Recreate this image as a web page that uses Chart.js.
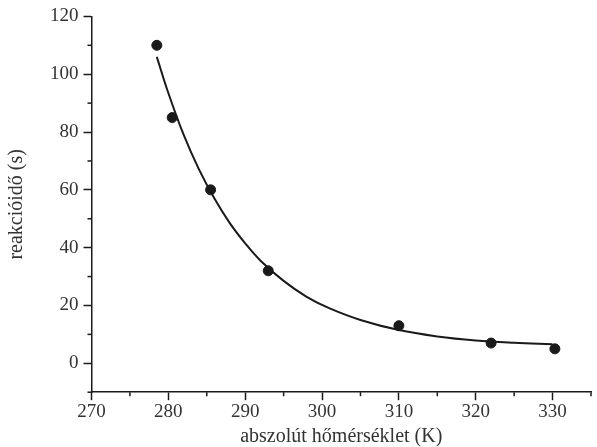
<!DOCTYPE html>
<html>
<head>
<meta charset="utf-8">
<script src="https://cdn.jsdelivr.net/npm/chart.js@4"></script>
<style>
  html, body { margin: 0; padding: 0; background: #fff; }
  #wrap { width: 597px; height: 447px; }
</style>
</head>
<body>
<div id="wrap"><canvas id="chartCanvas" width="597" height="447"></canvas></div>
<script>
// measured points
const tempK = [278.5, 280.5, 285.5, 293, 310, 322, 330.3];
const reactionTime = [110, 85, 60, 32, 13, 7, 5];

// fitted curve
const curveX = [278.5, 280, 282, 284, 286, 288, 290, 292, 295, 298, 301, 305, 310, 315, 320, 325, 330];
const curveY = [106, 93.5, 79, 67, 57, 48.5, 41.5, 35.5, 28.5, 23, 19, 15, 11.5, 9.3, 7.9, 7.1, 6.6];

const xTitle = 'abszolút hőmérséklet (K)';
const yTitle = 'reakcióidő (s)';

const ink = '#1a1a1a';
const font = 'Liberation Serif';

// short minor ticks drawn through the scales
const minorTicks = {
    id: 'minorTicks',
    afterDraw(chart) {
        const ctx = chart.ctx;
        const xs = chart.scales.x, ys = chart.scales.y;
        ctx.save();
        ctx.strokeStyle = ink;
        ctx.lineWidth = 1.5;
        xs.ticks.forEach(t => {
            if (t.value % 10 !== 0) {
                const px = xs.getPixelForValue(t.value);
                ctx.beginPath();
                ctx.moveTo(px, xs.top);
                ctx.lineTo(px, xs.top + 4);
                ctx.stroke();
            }
        });
        ys.ticks.forEach(t => {
            if (t.value % 20 !== 0) {
                const py = ys.getPixelForValue(t.value);
                ctx.beginPath();
                ctx.moveTo(ys.right, py);
                ctx.lineTo(ys.right - 4, py);
                ctx.stroke();
            }
        });
        ctx.restore();
    }
};

const ctx = document.getElementById('chartCanvas').getContext('2d');
new Chart(ctx, {
    type: 'scatter',
    data: {
        datasets: [
            {
                label: 'görbe',
                data: curveX.map((x, i) => ({ x: x, y: curveY[i] })),
                showLine: true,
                borderColor: ink,
                borderWidth: 2,
                pointRadius: 0,
                tension: 0.4,
                fill: false,
            },
            {
                label: 'mérés',
                data: tempK.map((x, i) => ({ x: x, y: reactionTime[i] })),
                backgroundColor: ink,
                borderColor: ink,
                pointRadius: 5,
                pointHoverRadius: 5,
            },
        ],
    },
    plugins: [minorTicks],
    options: {
        responsive: false,
        animation: false,
        layout: { padding: { top: 10, right: 2, left: 5, bottom: 0 } },
        plugins: {
            legend: { display: false },
            tooltip: { enabled: false },
        },
        scales: {
            x: {
                type: 'linear',
                min: 270,
                max: 335,
                border: { display: true, color: ink, width: 1.5 },
                grid: {
                    drawOnChartArea: false,
                    drawTicks: true,
                    tickLength: 8,
                    tickWidth: 1.5,
                    tickColor: c => (c.tick && c.tick.value % 10 === 0) ? ink : 'rgba(0,0,0,0)',
                },
                ticks: {
                    stepSize: 5,
                    autoSkip: false,
                    maxRotation: 0,
                    padding: 0,
                    color: '#333',
                    font: { family: font, size: 19 },
                    callback: v => (v % 10 === 0 ? v : ''),
                },
                title: {
                    display: true,
                    text: xTitle,
                    color: '#333',
                    font: { family: font, size: 20, lineHeight: 1 },
                    padding: { top: 4, bottom: 0 },
                },
            },
            y: {
                type: 'linear',
                min: -10,
                max: 120,
                border: { display: true, color: ink, width: 1.5 },
                grid: {
                    drawOnChartArea: false,
                    drawTicks: true,
                    tickLength: 8,
                    tickWidth: 1.5,
                    tickColor: c => (c.tick && c.tick.value % 20 === 0) ? ink : 'rgba(0,0,0,0)',
                },
                ticks: {
                    stepSize: 10,
                    autoSkip: false,
                    padding: 5,
                    color: '#333',
                    font: { family: font, size: 19 },
                    callback: v => (v % 20 === 0 ? v : ''),
                },
                title: {
                    display: true,
                    text: yTitle,
                    color: '#333',
                    font: { family: font, size: 20 },
                    padding: { top: 0, bottom: 16 },
                },
            },
        },
    },
});
</script>
</body>
</html>
